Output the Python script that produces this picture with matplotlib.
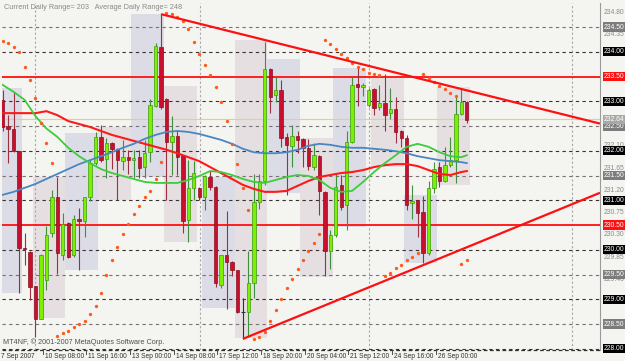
import matplotlib
matplotlib.use("Agg")
import matplotlib.pyplot as plt
import matplotlib.transforms as mtransforms
from matplotlib.patches import Rectangle

plt.rcParams['font.family'] = ['Liberation Sans', 'DejaVu Sans']

# 4H candles, GBPJPY, 7 Sep 2007 -> 26 Sep 2007
opens = [233.03, 232.50, 232.43, 232.00, 230.03, 229.95, 229.27, 228.61, 229.39, 230.33,
         231.06, 229.89, 230.54, 229.89, 230.63, 230.59, 231.06, 231.75, 232.28, 231.83,
         232.15, 232.03, 231.80, 231.87, 231.81, 231.87, 231.68, 231.98, 232.90, 234.09,
         233.05, 232.18, 232.30, 231.91, 230.60, 231.24, 231.24, 231.06, 231.46, 231.26,
         229.29, 229.89, 229.76, 229.59, 228.74, 228.75, 229.32, 230.97, 231.38, 233.66,
         233.13, 233.23, 232.28, 232.10, 232.30, 232.23, 232.06, 231.68, 231.89, 231.17,
         229.98, 230.30, 231.31, 230.90, 232.18, 233.35, 233.28, 232.92, 233.24, 232.88,
         232.97, 232.76, 232.84, 232.39, 232.25, 230.94, 231.00, 230.77, 229.93, 231.24,
         231.68, 231.38, 231.71, 231.81, 232.74, 232.99]
highs = [233.22, 232.72, 233.19, 232.00, 230.33, 229.97, 229.27, 229.92, 230.47, 231.21,
         231.48, 230.74, 230.56, 230.70, 230.84, 231.07, 231.81, 232.37, 232.52, 232.25,
         232.18, 232.05, 232.22, 232.02, 232.02, 232.02, 232.22, 233.04, 234.17, 234.76,
         233.06, 232.70, 232.41, 231.92, 231.81, 231.80, 231.27, 231.51, 231.61, 231.28,
         229.90, 230.79, 229.78, 229.60, 229.02, 229.98, 231.54, 231.54, 234.20, 233.68,
         233.48, 233.43, 232.35, 232.52, 232.39, 232.25, 232.23, 232.15, 231.92, 231.19,
         230.40, 231.56, 231.51, 232.39, 233.50, 233.70, 233.36, 233.26, 233.26, 233.33,
         233.56, 233.26, 233.09, 232.42, 232.32, 231.31, 231.01, 231.09, 231.38, 231.78,
         231.78, 232.08, 232.28, 233.09, 233.24, 233.00]
lows = [232.40, 231.75, 231.98, 229.12, 229.69, 228.98, 228.24, 228.60, 229.19, 230.26,
        229.52, 229.79, 229.84, 229.86, 229.59, 230.25, 230.98, 231.72, 231.78, 231.44,
        231.64, 231.00, 231.61, 231.54, 231.44, 231.44, 231.44, 231.78, 232.88, 232.85,
        231.00, 231.51, 231.51, 230.33, 230.16, 231.00, 231.00, 230.80, 231.20, 229.25,
        229.22, 228.80, 229.46, 228.72, 228.20, 228.24, 229.02, 230.82, 231.31, 232.76,
        232.99, 232.08, 231.11, 231.68, 231.95, 231.68, 231.61, 231.61, 230.70, 229.46,
        229.62, 230.26, 230.80, 230.40, 232.15, 232.90, 233.10, 232.88, 232.72, 232.82,
        232.39, 232.65, 232.15, 232.08, 230.80, 230.63, 230.26, 229.73, 229.90, 231.14,
        231.27, 231.36, 231.68, 231.34, 232.72, 232.57]
closes = [232.47, 232.43, 232.00, 230.03, 230.01, 229.25, 228.61, 229.89, 230.30, 231.07,
          229.93, 230.53, 229.86, 230.63, 230.59, 231.06, 231.75, 232.28, 231.81, 232.16,
          232.03, 231.81, 231.87, 231.81, 231.85, 231.66, 231.96, 232.92, 234.12, 232.89,
          232.18, 232.30, 231.88, 230.59, 231.24, 231.56, 231.06, 231.48, 231.27, 229.32,
          229.89, 229.76, 229.59, 228.75, 228.74, 229.32, 230.97, 231.38, 233.66, 233.09,
          233.23, 232.26, 232.12, 232.30, 232.22, 232.06, 231.70, 231.91, 231.19, 229.98,
          230.30, 231.27, 230.87, 232.18, 233.33, 233.28, 233.33, 233.23, 232.86, 232.97,
          232.72, 232.84, 232.37, 232.25, 230.90, 230.98, 230.75, 229.93, 231.24, 231.64,
          231.38, 231.71, 231.81, 232.74, 232.99, 232.62]

# moving averages, read every second bar
ma_bars = [0, 2, 4, 6, 8, 10, 12, 14, 16, 18, 20, 22, 24, 26, 28, 30, 32, 34, 36, 38, 40, 42,
           44, 46, 48, 50, 52, 54, 56, 58, 60, 62, 64, 66, 68, 70, 72, 74, 76, 78, 80, 82, 84, 85]
ma_red = [232.76, 232.76, 232.76, 232.76, 232.80, 232.72, 232.60, 232.54, 232.48, 232.40, 232.32,
          232.26, 232.20, 232.14, 232.08, 232.02, 231.95, 231.87, 231.79, 231.67, 231.55, 231.43,
          231.31, 231.23, 231.17, 231.17, 231.19, 231.29, 231.39, 231.47, 231.51, 231.55, 231.57,
          231.61, 231.67, 231.71, 231.73, 231.73, 231.69, 231.61, 231.53, 231.51, 231.57, 231.59]
ma_blue = [231.11, 231.17, 231.25, 231.33, 231.43, 231.53, 231.63, 231.73, 231.81, 231.89, 231.97,
           232.06, 232.14, 232.24, 232.32, 232.38, 232.40, 232.38, 232.34, 232.28, 232.22, 232.14,
           232.04, 231.97, 231.95, 231.95, 231.97, 232.02, 232.10, 232.14, 232.12, 232.08, 232.06,
           232.06, 232.04, 232.02, 231.99, 231.95, 231.89, 231.85, 231.81, 231.79, 231.77, 231.75]
ma_green = [233.33, 233.19, 233.03, 232.70, 232.45, 232.28, 232.06, 231.89, 231.75, 231.63, 231.55,
            231.49, 231.43, 231.37, 231.35, 231.35, 231.35, 231.41, 231.49, 231.59, 231.57, 231.51,
            231.43, 231.37, 231.35, 231.41, 231.47, 231.51, 231.49, 231.41, 231.25, 231.17, 231.19,
            231.37, 231.57, 231.75, 231.91, 232.08, 232.14, 232.08, 231.97, 231.89, 231.87, 231.91]

# parabolic SAR, one dot per bar
sar = [234.22, 234.18, 234.09, 233.99, 233.70, 233.43, 233.07, 232.57, 232.15, 231.76,
       228.26, 228.31, 228.36, 228.43, 228.50, 228.56, 228.70, 228.87, 229.13, 229.49,
       229.79, 230.05, 230.31, 230.52, 230.72, 230.89, 231.07, 231.19, 231.42, 231.77,
       234.78, 234.76, 234.70, 234.63, 234.45, 234.19, 233.95, 233.73, 233.53, 233.29,
       232.98, 232.61, 232.14, 231.73, 231.25, 230.80, 228.19, 228.24, 228.34, 228.57,
       228.78, 229.01, 229.22, 229.41, 229.61, 229.79, 229.98, 230.14, 230.31, 234.24,
       234.15, 234.05, 233.95, 233.87, 233.78, 233.70, 233.65, 233.58, 233.56, 233.53,
       229.46, 229.54, 229.63, 229.69, 229.79, 229.85, 229.93, 233.55, 233.46, 233.38,
       233.31, 233.25, 233.17, 233.11, 229.71, 229.79]

# daily range boxes: first bar, last bar, high, low
day_start = [0, 6, 12, 18, 24, 30, 37, 43, 49, 55, 61, 68, 74, 80]
day_end = [3, 11, 17, 23, 29, 35, 42, 48, 54, 60, 66, 73, 79, 85]
day_high = [233.27, 231.47, 232.36, 232.48, 234.76, 233.31, 231.47, 234.24, 233.85, 232.26,
            233.67, 233.49, 231.11, 233.29]
day_low = [229.13, 228.62, 229.59, 231.00, 231.47, 230.16, 228.82, 228.22, 231.15, 229.45,
           230.46, 231.67, 229.73, 231.31]

# trend lines (two anchor points each)
upper_tl = [(29, 234.76), (85, 233.22)]
lower_tl = [(44, 228.20), (85, 230.05)]
red_levels = [233.50, 230.50]
bid = 232.64
whole_levels = [234.0, 233.0, 232.0, 231.0, 230.0, 229.0, 228.0]
half_levels = [234.5, 232.5, 231.5, 229.5, 228.5]
scale_labels = [234.80, 234.35, 232.10, 231.65, 231.20, 230.75, 230.30, 229.85, 229.40]
vgrid_bars = [5.9, 36.1, 67.1, 104.3]

date_bars = [0, 8, 16, 24, 32, 40, 48, 56, 64, 72, 80]
date_labels = ["7 Sep 2007", "10 Sep 08:00", "11 Sep 16:00", "13 Sep 00:00", "14 Sep 08:00",
               "17 Sep 12:00", "18 Sep 20:00", "20 Sep 04:00", "21 Sep 12:00", "24 Sep 16:00",
               "26 Sep 00:00"]

BG = '#f4f4f1'
fig = plt.figure(figsize=(6.25, 3.61), dpi=100, facecolor=BG)
ax = fig.add_axes([2 / 625, 11 / 361, 598 / 625, 347 / 361])
ax.set_facecolor(BG)
xmin, xmax = -0.128, 109.4
ax.set_xlim(xmin, xmax)
ax.set_ylim(227.975, 234.985)
ax.set_xticks([])
ax.set_yticks([])
for s in ['top', 'left', 'bottom']:
    ax.spines[s].set_visible(False)
ax.spines['right'].set_color('#9a9a9a')
ax.spines['right'].set_linewidth(0.8)

# daily range boxes
box_cols = ['#dcdce6', '#e6dfe2']
for i in range(len(day_start)):
    ax.add_patch(Rectangle((day_start[i] - 0.5, day_low[i]), day_end[i] - day_start[i] + 1,
                           day_high[i] - day_low[i], facecolor=box_cols[i % 2],
                           edgecolor='none', zorder=1))

# grid / levels
for b in vgrid_bars:
    ax.axvline(b, color='#a8a8a8', lw=0.8, ls=(0, (2, 2)), zorder=2)
for lv in whole_levels:
    ax.axhline(lv, color='#3a3030', lw=0.8, ls=(0, (3, 3)), zorder=2)
for lv in half_levels:
    ax.axhline(lv, color='#7a7272', lw=0.8, ls=(0, (3, 3)), zorder=2)
ax.axhline(bid, color='#f0d060', lw=0.8, zorder=2)
for lv in red_levels:
    ax.axhline(lv, color='#ff1010', lw=1.3, zorder=3)

# candles
n = len(opens)
xs = list(range(n))
for i in xs:
    o, h, l, c = opens[i], highs[i], lows[i], closes[i]
    if abs(c - o) < 0.02:
        ax.vlines(i, l, h, color='#303030', lw=0.8, zorder=4)
        ax.hlines(o, i - 0.3, i + 0.3, color='#303030', lw=0.8, zorder=4)
        continue
    up = c > o
    wick = '#3f8f3f' if up else '#9a3040'
    body = '#7cf000' if up else '#c8102e'
    edge = '#3a9a10' if up else '#8a1020'
    ax.vlines(i, l, h, color=wick, lw=0.8, zorder=4)
    ax.bar(i, abs(c - o), bottom=min(o, c), width=0.62, color=body, edgecolor=edge,
           linewidth=0.5, zorder=5)

# moving averages
ax.plot(ma_bars, ma_red, color='#ff1a1a', lw=1.5, zorder=6)
ax.plot(ma_bars, ma_blue, color='#4a86c0', lw=1.3, zorder=6)
ax.plot(ma_bars, ma_green, color='#3ccc3c', lw=1.3, zorder=6)

# parabolic SAR
ax.plot(xs, sar, ls='none', marker='o', ms=2.4, color='#ff5a1a', mec='none', zorder=7)

# trend lines, extended to the right edge
for (x0, y0), (x1, y1) in [upper_tl, lower_tl]:
    slope = (y1 - y0) / (x1 - x0)
    ax.plot([x0, xmax], [y0, y0 + slope * (xmax - x0)], color='#ff1010', lw=1.6, zorder=8,
            solid_capstyle='butt')

# texts
ax.text(0.004, 0.997, "Current Daily Range= 203   Average Daily Range= 248",
        transform=ax.transAxes, ha='left', va='top', fontsize=5.3, color='#8a8a8a')
ax.text(0.002, 0.012, "MT4NF, \u00a9 2001-2007 MetaQuotes Software Corp.",
        transform=ax.transAxes, ha='left', va='bottom', fontsize=5.2, color='#505050')

# right price scale
trans_r = mtransforms.blended_transform_factory(ax.transAxes, ax.transData)
lx = 1.006
for lv in scale_labels:
    ax.text(lx, lv, f"{lv:.2f}", transform=trans_r, ha='left', va='center',
            fontsize=4.9, color='#8a8a8a', clip_on=False, zorder=9)
boxed = [(half_levels, '#7c7c7c'), (whole_levels, 'black'), (red_levels, '#ff1010'),
         ([bid], '#a8a8a8')]
for levels, fc in boxed:
    for lv in levels:
        ax.text(lx, lv, f"{lv:.2f}", transform=trans_r, ha='left', va='center',
                fontsize=4.9, color='white', clip_on=False, zorder=10,
                bbox=dict(boxstyle='square,pad=0.15', fc=fc, ec='none'))

# time scale
trans_b = mtransforms.blended_transform_factory(ax.transData, ax.transAxes)
ax.plot([xmin, xmax], [0, 0], transform=trans_b, color='#303030', lw=0.9,
        ls=(0, (3, 2)), clip_on=False)
for b, lab in zip(date_bars, date_labels):
    ax.plot([b - 0.7, b - 0.7], [0, -0.012], transform=trans_b, color='#505050', lw=0.7,
            clip_on=False)
    ax.text(b - 0.3, -0.008, lab, transform=trans_b, ha='left', va='top', fontsize=4.8,
            color='#303030', clip_on=False)

fig.savefig('out.png', dpi=100, facecolor=BG)
